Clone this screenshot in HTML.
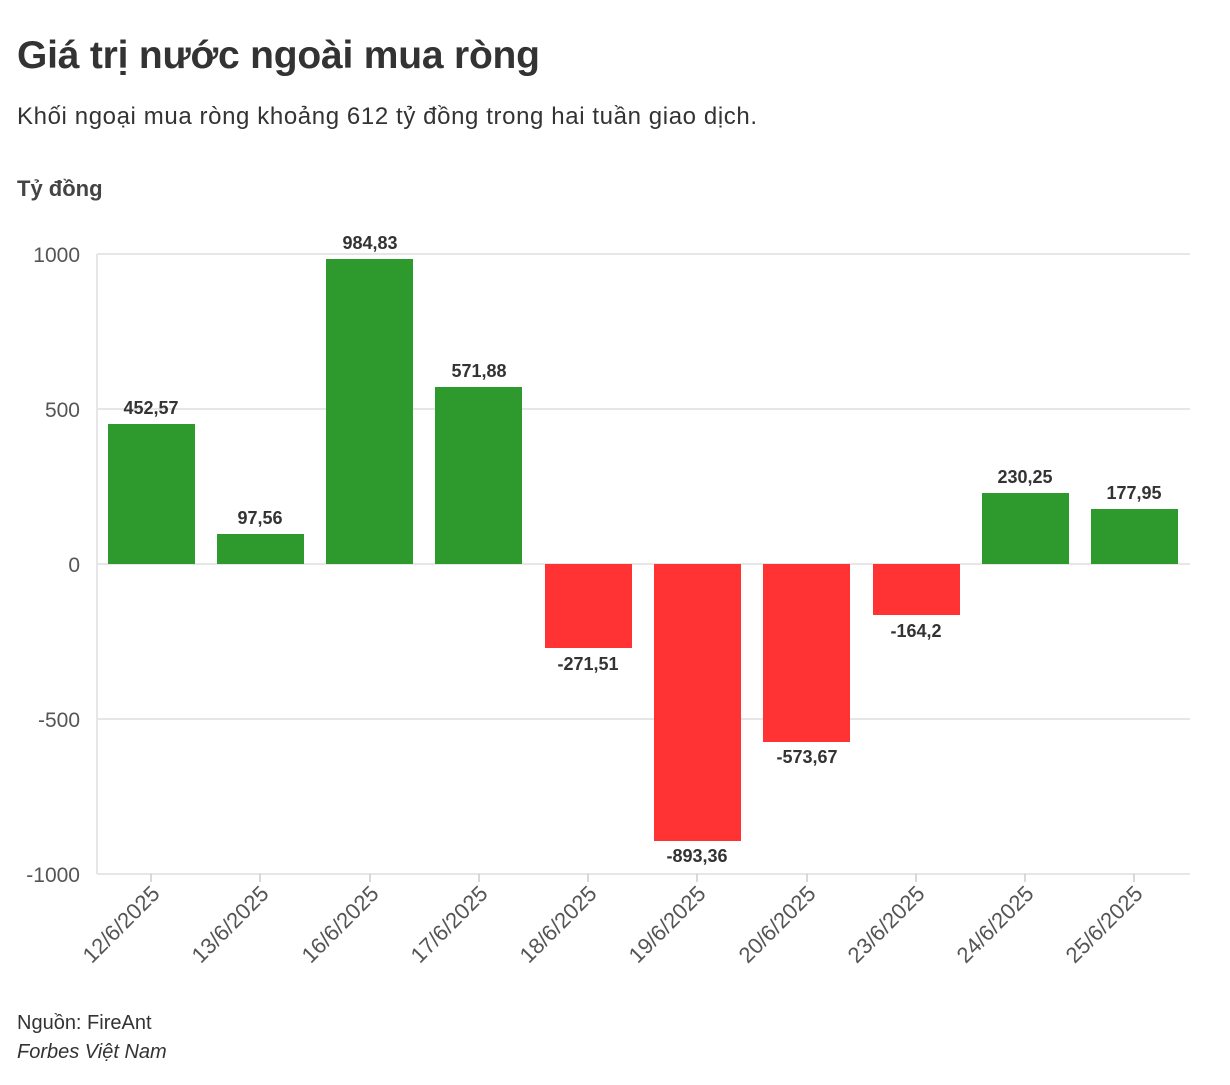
<!DOCTYPE html>
<html><head><meta charset="utf-8"><style>
body{margin:0;background:#fff;width:1230px;height:1080px;overflow:hidden;font-family:"Liberation Sans",sans-serif;color:#333}
</style></head><body>
<svg width="1230" height="1080" xmlns="http://www.w3.org/2000/svg" font-family="Liberation Sans, sans-serif">
<text x="17" y="68" font-size="39" font-weight="bold" fill="#333" textLength="523">Giá trị nước ngoài mua ròng</text>
<text x="17" y="124" font-size="24" fill="#333" textLength="740">Khối ngoại mua ròng khoảng 612 tỷ đồng trong hai tuần giao dịch.</text>
<text x="17" y="196" font-size="22" font-weight="bold" fill="#444">Tỷ đồng</text>
<g stroke="#e6e6e6" stroke-width="2">
<line x1="97" y1="254" x2="1190" y2="254"/><line x1="97" y1="409" x2="1190" y2="409"/>
<line x1="97" y1="564" x2="1190" y2="564"/><line x1="97" y1="719" x2="1190" y2="719"/>
<line x1="97" y1="874" x2="1190" y2="874"/><line x1="97" y1="254" x2="97" y2="874"/>
</g>
<g font-size="21" fill="#555" text-anchor="end">
<text x="80" y="262">1000</text><text x="80" y="417">500</text><text x="80" y="572">0</text>
<text x="80" y="727">-500</text><text x="80" y="882">-1000</text>
</g>
<g fill="#2e9a2e">
<rect x="108" y="424" width="87" height="140"/>
<rect x="217" y="534" width="87" height="30"/>
<rect x="326" y="259" width="87" height="305"/>
<rect x="435" y="387" width="87" height="177"/>
<rect x="982" y="493" width="87" height="71"/>
<rect x="1091" y="509" width="87" height="55"/>
</g>
<g fill="#ff3333">
<rect x="545" y="564" width="87" height="84"/>
<rect x="654" y="564" width="87" height="277"/>
<rect x="763" y="564" width="87" height="178"/>
<rect x="873" y="564" width="87" height="51"/>
</g>
<g font-size="18" font-weight="bold" fill="#333" text-anchor="middle">
<text x="151" y="414">452,57</text><text x="260" y="524">97,56</text>
<text x="370" y="249">984,83</text><text x="479" y="377">571,88</text>
<text x="588" y="670">-271,51</text><text x="697" y="862">-893,36</text>
<text x="807" y="763">-573,67</text><text x="916" y="637">-164,2</text>
<text x="1025" y="483">230,25</text><text x="1134" y="499">177,95</text>
</g>
<g stroke="#ccc" stroke-width="1.5">
<line x1="151" y1="874" x2="151" y2="882"/><line x1="260" y1="874" x2="260" y2="882"/>
<line x1="370" y1="874" x2="370" y2="882"/><line x1="479" y1="874" x2="479" y2="882"/>
<line x1="588" y1="874" x2="588" y2="882"/><line x1="697" y1="874" x2="697" y2="882"/>
<line x1="807" y1="874" x2="807" y2="882"/><line x1="916" y1="874" x2="916" y2="882"/>
<line x1="1025" y1="874" x2="1025" y2="882"/><line x1="1134" y1="874" x2="1134" y2="882"/>
</g>
<g font-size="22" fill="#555" text-anchor="end">
<text transform="translate(161,895) rotate(-45)">12/6/2025</text>
<text transform="translate(270,895) rotate(-45)">13/6/2025</text>
<text transform="translate(380,895) rotate(-45)">16/6/2025</text>
<text transform="translate(489,895) rotate(-45)">17/6/2025</text>
<text transform="translate(598,895) rotate(-45)">18/6/2025</text>
<text transform="translate(707,895) rotate(-45)">19/6/2025</text>
<text transform="translate(817,895) rotate(-45)">20/6/2025</text>
<text transform="translate(926,895) rotate(-45)">23/6/2025</text>
<text transform="translate(1035,895) rotate(-45)">24/6/2025</text>
<text transform="translate(1144,895) rotate(-45)">25/6/2025</text>
</g>
<text x="17" y="1029" font-size="20" fill="#333">Nguồn: FireAnt</text>
<text x="17" y="1058" font-size="20" font-style="italic" fill="#333">Forbes Việt Nam</text>
</svg>
</body></html>
